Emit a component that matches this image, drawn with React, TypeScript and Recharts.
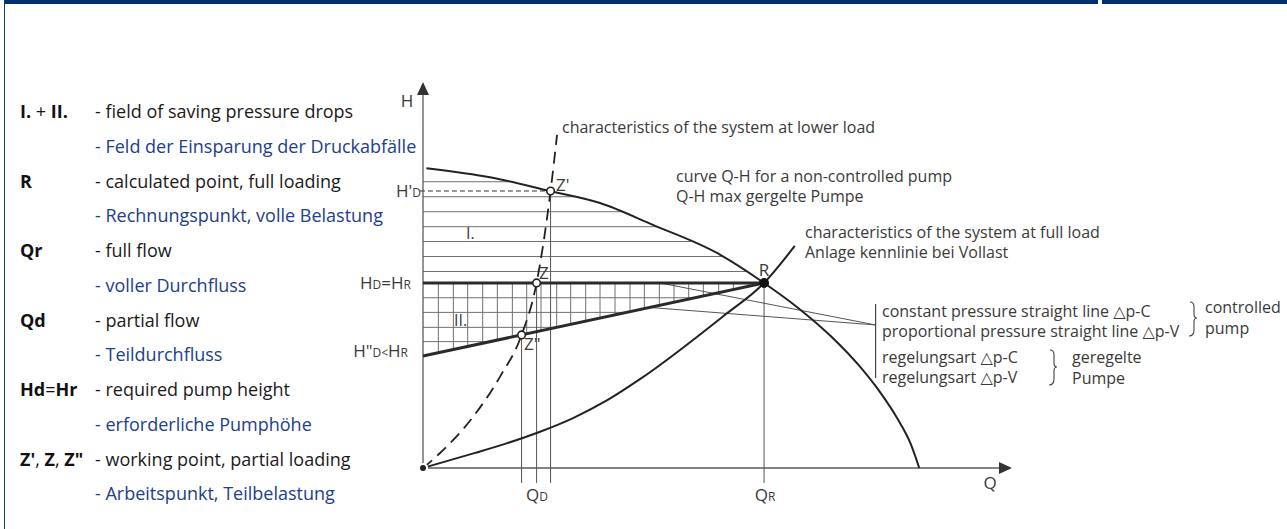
import React from 'react';
import { ComposedChart, Line, XAxis, YAxis, ReferenceLine, ReferenceDot } from 'recharts';

// ---------- values (Q = flow, H = head, R at Q=100 / H=100) ----------
const pumpQ = [1, 20, 37.2, 51.9, 67.4, 86.2, 100, 110, 120, 128, 134, 139, 143, 145.5];
const pumpH = [162, 157, 149.7, 143.2, 131.4, 116.2, 100, 86.5, 70.5, 55, 41, 27, 13, 0];

const fullLoadQ = [0, 14.8, 24.5, 34.3, 44, 53.9, 63.6, 88, 100, 109];
const fullLoadH = [0, 7.9, 13.3, 19.6, 27, 36.5, 48, 82, 100, 120];

const lowLoadQ = [0, 5, 14.7, 22.6, 28.9, 33.3, 37.4, 39.3];
const lowLoadH = [0, 8.1, 27.7, 49.4, 71.9, 100, 149.7, 180];

const pointNames = ["Z'", 'Z', 'Z"', 'R'];
const pointQ = [37.4, 33.3, 28.9, 100];
const pointH = [149.7, 100, 71.9, 100];

const dpvStartH = 60.5; // H"D at Q = 0
const hatchIH = [154.7, 146.6, 138.5, 130.4, 122.4, 114.3, 106.2];
const hatchIIH = [92.0, 84.1, 76.0, 68.3];
const hatchIIQ = [4.5, 8.9, 13.1, 17.5, 21.8, 26.2, 30.4, 34.6, 39.2, 43.3, 47.7, 51.9, 56.3, 60.7, 64.9, 69.3, 73.6, 77.9, 82.2, 86.7, 91.0, 95.4];
const axisMaxQ = 172.7;
const axisMaxH = 208.6;
const belowAxisH = -8.1;
const leaderFromQ = [69.5, 66.5];
const bracketQ = 132.7;
const bracketH = [88.6, 48.6];
const leaderToH = 77.3;

const legendKeys = ['I. + II.', 'R', 'Qr', 'Qd', 'Hd=Hr', 'Z\', Z, Z"'];
const legendEn = [
  '- field of saving pressure drops',
  '- calculated point, full loading',
  '- full flow',
  '- partial flow',
  '- required pump height',
  '- working point, partial loading',
];
const legendDe = [
  '- Feld der Einsparung der Druckabfälle',
  '- Rechnungspunkt, volle Belastung',
  '- voller Durchfluss',
  '- Teildurchfluss',
  '- erforderliche Pumphöhe',
  '- Arbeitspunkt, Teilbelastung',
];

// ---------- derived tables ----------
const pumpCurve = pumpQ.map((q, i) => ({ q, h: pumpH[i] }));
const fullLoad = fullLoadQ.map((q, i) => ({ q, h: fullLoadH[i] }));
const lowLoad = lowLoadQ.map((q, i) => ({ q, h: lowLoadH[i] }));
const R = { q: pointQ[3], h: pointH[3] };
const dpv = (q: number) => dpvStartH + ((R.h - dpvStartH) * q) / R.q;
const dpvInv = (h: number) => ((h - dpvStartH) * R.q) / (R.h - dpvStartH);
const pumpQAtH = (h: number) => {
  for (let i = 0; i < pumpQ.length - 1; i++) {
    if (pumpH[i] >= h && pumpH[i + 1] <= h) {
      const t = (pumpH[i] - h) / (pumpH[i] - pumpH[i + 1]);
      return pumpQ[i] + t * (pumpQ[i + 1] - pumpQ[i]);
    }
  }
  return 0;
};

const FONT = "'Open Sans', 'DejaVu Sans', sans-serif";
const DIAG = '#3a3a3a';
const BLUE = '#21408a';

const seg = (x1: number, y1: number, x2: number, y2: number) => [
  { x: x1, y: y1 },
  { x: x2, y: y2 },
];

const UpArrow = (p: any) => (
  <path d={`M${p.cx},${p.cy} L${p.cx - 6},${p.cy + 13} L${p.cx + 6},${p.cy + 13} Z`} fill="#333" />
);
const RightArrow = (p: any) => (
  <path d={`M${p.cx},${p.cy} L${p.cx - 13},${p.cy - 6} L${p.cx - 13},${p.cy + 6} Z`} fill="#333" />
);

const T = ({ x, y, size = 16, anchor = 'start', color = DIAG, weight = 400, children }: any) => (
  <text x={x} y={y} fontSize={size} textAnchor={anchor} fill={color} fontWeight={weight} fontFamily={FONT}>
    {children}
  </text>
);
const sm = (s: string) => <tspan fontSize={12}>{s}</tspan>;

export default function App() {
  const lines: any[] = [];
  // field I: horizontal hatch between HD=HR and pump curve
  hatchIH.forEach((h, i) =>
    lines.push(<ReferenceLine key={'h1' + i} segment={seg(0, h, pumpQAtH(h), h)} stroke="#707070" strokeWidth={1} />)
  );
  // field II: grid between HD=HR and the Δp-V line
  hatchIIH.forEach((h, i) =>
    lines.push(<ReferenceLine key={'h2' + i} segment={seg(0, h, dpvInv(h), h)} stroke="#707070" strokeWidth={1} />)
  );
  hatchIIQ.forEach((q, i) =>
    lines.push(<ReferenceLine key={'v2' + i} segment={seg(q, R.h, q, dpv(q))} stroke="#707070" strokeWidth={1} />)
  );

  return (
    <div style={{ position: 'absolute', left: 0, top: 0, width: 1287, height: 529, background: '#fff', overflow: 'hidden' }}>
      <div style={{ position: 'absolute', left: 4, top: 0, width: 1094, height: 4, background: '#00306e' }} />
      <div style={{ position: 'absolute', left: 1102, top: 0, width: 185, height: 4, background: '#00306e' }} />
      <div style={{ position: 'absolute', left: 4, top: 0, width: 1, height: 529, background: '#1f3c78' }} />
      <div style={{ position: 'absolute', left: 0, top: 0 }}>
        <ComposedChart width={1287} height={529} margin={{ top: 0, right: 0, bottom: 0, left: 0 }}>
          <XAxis type="number" dataKey="q" domain={[-124.03, 253.33]} hide allowDataOverflow />
          <YAxis type="number" dataKey="h" domain={[-32.97, 252.92]} hide allowDataOverflow />
          {lines}
          {/* axes */}
          <ReferenceLine segment={seg(0, 0, 0, axisMaxH - 4)} stroke="#5a5a5a" strokeWidth={1.3} />
          <ReferenceLine segment={seg(0, 0, axisMaxQ - 2, 0)} stroke="#5a5a5a" strokeWidth={1.3} />
          <ReferenceDot x={0} y={axisMaxH} r={6} shape={UpArrow} />
          <ReferenceDot x={axisMaxQ} y={0} r={6} shape={RightArrow} />
          {/* Q drop lines */}
          {pointQ.map((q, i) => (
            <ReferenceLine key={'qd' + i} segment={seg(q, belowAxisH, q, pointH[i])} stroke="#555" strokeWidth={1} />
          ))}
          {/* H'D dashed */}
          <ReferenceLine segment={seg(-0.9, pointH[0], pointQ[0], pointH[0])} stroke="#333" strokeWidth={1} strokeDasharray="5 3" />
          {/* leaders to bracket */}
          <ReferenceLine segment={seg(leaderFromQ[0], R.h, bracketQ, leaderToH)} stroke="#555" strokeWidth={1} />
          <ReferenceLine segment={seg(leaderFromQ[1], dpv(leaderFromQ[1]), bracketQ, leaderToH)} stroke="#555" strokeWidth={1} />
          <ReferenceLine segment={seg(bracketQ, bracketH[0], bracketQ, bracketH[1])} stroke="#444" strokeWidth={1.2} />
          {/* thick control lines */}
          <ReferenceLine segment={seg(0, R.h, R.q, R.h)} stroke="#2a2a2a" strokeWidth={3} />
          <ReferenceLine segment={seg(0, dpvStartH, R.q, R.h)} stroke="#2a2a2a" strokeWidth={3} />
          {/* curves */}
          <Line data={pumpCurve} dataKey="h" type="monotone" stroke="#222" strokeWidth={2} dot={false} isAnimationActive={false} />
          <Line data={fullLoad} dataKey="h" type="monotone" stroke="#222" strokeWidth={2} dot={false} isAnimationActive={false} />
          <Line data={lowLoad} dataKey="h" type="monotone" stroke="#222" strokeWidth={1.8} strokeDasharray="12 7" dot={false} isAnimationActive={false} />
          {/* working points */}
          {pointNames.slice(0, 3).map((n, i) => (
            <ReferenceDot key={n} x={pointQ[i]} y={pointH[i]} r={3.8} fill="#fff" stroke="#222" strokeWidth={1.6} />
          ))}
          <ReferenceDot x={R.q} y={R.h} r={4.5} fill="#111" stroke="#111" />
        </ComposedChart>
      </div>
      <svg width={1287} height={529} style={{ position: 'absolute', left: 0, top: 0, pointerEvents: 'none' }}>
        {/* legend */}
        {legendKeys.map((k, i) => {
          const yc = 111.7 + i * 69.5;
          let key: any = k;
          if (i === 0) key = (<><tspan fontWeight={700}>I.</tspan><tspan fontWeight={400}> + </tspan><tspan fontWeight={700}>II.</tspan></>);
          if (i === 4) key = (<><tspan fontWeight={700}>Hd</tspan><tspan fontWeight={400}>=</tspan><tspan fontWeight={700}>Hr</tspan></>);
          if (i === 5) key = (<><tspan fontWeight={700}>Z'</tspan><tspan fontWeight={400}>, </tspan><tspan fontWeight={700}>Z</tspan><tspan fontWeight={400}>, </tspan><tspan fontWeight={700}>Z"</tspan></>);
          return (
            <g key={k}>
              <T x={20} y={yc + 6.5} size={18} color="#111" weight={700}>{key}</T>
              <T x={95} y={yc + 6.5} size={18} color="#1a1a1a">{legendEn[i]}</T>
              <T x={95} y={yc + 34.6 + 6.5} size={18} color={BLUE}>{legendDe[i]}</T>
            </g>
          );
        })}
        {/* axis labels */}
        <T x={407} y={107} size={17} anchor="middle">H</T>
        <T x={990} y={489} size={17} anchor="middle">Q</T>
        <T x={537} y={501} size={17} anchor="middle">Q{sm('D')}</T>
        <T x={765} y={501} size={17} anchor="middle">Q{sm('R')}</T>
        <T x={421} y={197} size={17} anchor="end">H'{sm('D')}</T>
        <T x={411} y={289} size={17} anchor="end">H{sm('D')}=H{sm('R')}</T>
        <T x={408} y={357} size={17} anchor="end">H"{sm('D<')}H{sm('R')}</T>
        {/* field / point labels */}
        <T x={466} y={239} size={16}>I.</T>
        <T x={454} y={326} size={16}>II.</T>
        <T x={556} y={191} size={17}>{pointNames[0]}</T>
        <T x={539} y={279} size={17}>{pointNames[1]}</T>
        <T x={524} y={350} size={17}>{pointNames[2]}</T>
        <T x={764} y={276} size={17} anchor="middle">{pointNames[3]}</T>
        {/* annotations */}
        <T x={562} y={132.5}>characteristics of the system at lower load</T>
        <T x={676} y={181.5}>curve Q-H for a non-controlled pump</T>
        <T x={676} y={202}>Q-H max gergelte Pumpe</T>
        <T x={805} y={237.5}>characteristics of the system at full load</T>
        <T x={805} y={257.5}>Anlage kennlinie bei Vollast</T>
        <T x={882} y={316.5}>constant pressure straight line △p-C</T>
        <T x={882} y={336.5}>proportional pressure straight line △p-V</T>
        <T x={882} y={362.5}>regelungsart △p-C</T>
        <T x={882} y={382.5}>regelungsart △p-V</T>
        <T x={1205} y={312.5}>controlled</T>
        <T x={1205} y={333.5}>pump</T>
        <T x={1072} y={362.5}>geregelte</T>
        <T x={1072} y={383.5}>Pumpe</T>
        <path d="M1190,302 Q1194,302 1194,307 L1194,314 Q1194,318 1197,318 Q1194,318 1194,322 L1194,330 Q1194,336 1189,336" stroke="#444" strokeWidth={1.1} fill="none" />
        <path d="M1050,350 Q1054,350 1054,355 L1054,363 Q1054,367 1057,367 Q1054,367 1054,371 L1054,379 Q1054,385 1049,385" stroke="#444" strokeWidth={1.1} fill="none" />
      </svg>
    </div>
  );
}
